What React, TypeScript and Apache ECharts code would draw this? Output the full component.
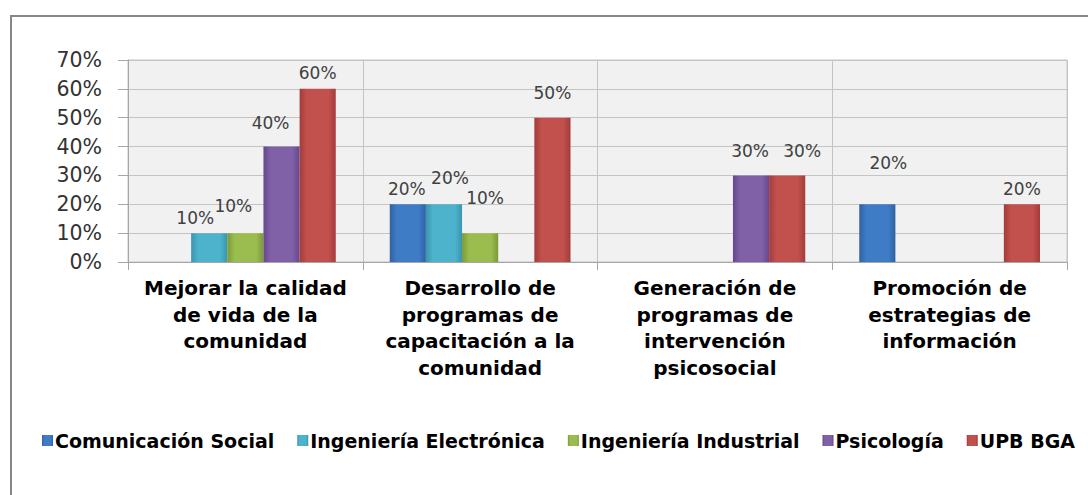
import React, { useEffect, useRef } from "react";
import * as echarts from "echarts";

const categories = [
  "Mejorar la calidad\nde vida de la\ncomunidad",
  "Desarrollo de\nprogramas de\ncapacitación a la\ncomunidad",
  "Generación de\nprogramas de\nintervención\npsicosocial",
  "Promoción de\nestrategias de\ninformación",
];

const seriesNames = [
  "Comunicación Social",
  "Ingeniería Electrónica",
  "Ingeniería Industrial",
  "Psicología",
  "UPB BGA",
];

const comunicacionSocial = [null, 20, null, 20];
const ingenieriaElectronica = [10, 20, null, null];
const ingenieriaIndustrial = [10, 10, null, null];
const psicologia = [40, null, 30, null];
const upbBga = [60, 50, 30, 20];

const yTicks = [0, 10, 20, 30, 40, 50, 60, 70];

const seriesValues = [
  comunicacionSocial,
  ingenieriaElectronica,
  ingenieriaIndustrial,
  psicologia,
  upbBga,
];

const seriesColors = [
  ["#2f62a3", "#3f7cc6", "#2f62a3"],
  ["#3a95ad", "#4db3cd", "#3a95ad"],
  ["#7a9a36", "#9bbd4f", "#7a9a36"],
  ["#65478c", "#8061a8", "#65478c"],
  ["#a23c3a", "#c2504d", "#a23c3a"],
];

// label nudges (dx, dy) per series / category
const labelOffsets = [
  [[0, 0], [-1, 0], [0, 0], [11, -26]],
  [[-14, 0], [6, -11], [0, 0], [0, 0]],
  [[-12, -12], [5, -20], [0, 0], [0, 0]],
  [[-11, -8], [0, 0], [-1, -9], [0, 0]],
  [[0, 0], [0, -9], [15, -9], [0, 0]],
];

export default function App() {
  const ref = useRef<HTMLDivElement>(null);

  useEffect(() => {
    if (!ref.current) return;
    const chart = echarts.init(ref.current, null, { renderer: "svg" });

    const series = seriesNames.map((name, s) => ({
      name,
      type: "bar",
      barGap: "0%",
      barCategoryGap: "23%",
      itemStyle: {
        color: new echarts.graphic.LinearGradient(0, 0, 1, 0, [
          { offset: 0, color: seriesColors[s][0] },
          { offset: 0.2, color: seriesColors[s][1] },
          { offset: 0.8, color: seriesColors[s][1] },
          { offset: 1, color: seriesColors[s][2] },
        ]),
      },
      label: {
        show: true,
        position: "top",
        distance: 7,
        formatter: "{c}%",
        fontFamily: "DejaVu Sans",
        fontSize: 17,
        color: "#404040",
      },
      data: seriesValues[s].map((v, i) =>
        v == null
          ? "-"
          : { value: v, label: { offset: labelOffsets[s][i] } }
      ),
    }));

    chart.setOption({
      animation: false,
      backgroundColor: "#ffffff",
      graphic: [
        {
          type: "rect",
          shape: { x: 11, y: 16, width: 1200, height: 600 },
          style: { fill: "none", stroke: "#878787", lineWidth: 2 },
          z: -1,
        },
      ],
      grid: {
        left: 128,
        right: 21,
        top: 60,
        bottom: 233,
        show: true,
        backgroundColor: "#f1f1f1",
        borderColor: "#c4c4c4",
        borderWidth: 1,
      },
      legend: {
        left: 37,
        top: 426,
        itemWidth: 11,
        itemHeight: 11,
        itemGap: 23,
        icon: "rect",
        textStyle: {
          fontFamily: "DejaVu Sans",
          fontWeight: "bold",
          fontSize: 19,
          color: "#000",
          padding: [0, 0, 0, -3],
        },
        data: seriesNames,
      },
      xAxis: {
        type: "category",
        data: categories,
        axisLine: { show: true, lineStyle: { color: "#a6a6a6" } },
        axisTick: { show: true, length: 8, lineStyle: { color: "#a6a6a6" } },
        splitLine: { show: true, lineStyle: { color: "#c4c4c4" } },
        axisLabel: {
          interval: 0,
          margin: 13,
          fontFamily: "DejaVu Sans",
          fontWeight: "bold",
          fontSize: 20,
          lineHeight: 26.5,
          color: "#000",
          align: "center",
        },
      },
      yAxis: {
        type: "value",
        min: 0,
        max: 70,
        interval: 10,
        axisLine: { show: true, lineStyle: { color: "#a6a6a6" } },
        axisTick: { show: true, length: 10, lineStyle: { color: "#a6a6a6" } },
        splitLine: { show: true, lineStyle: { color: "#c4c4c4" } },
        axisLabel: {
          margin: 26,
          fontFamily: "DejaVu Sans",
          fontSize: 20.5,
          color: "#333",
          formatter: (v: number) => (yTicks.includes(v) ? `${v}%` : ""),
        },
      },
      series,
    });

    return () => chart.dispose();
  }, []);

  return (
    <div
      ref={ref}
      style={{ position: "fixed", left: 0, top: 0, width: 1088, height: 495 }}
    />
  );
}
